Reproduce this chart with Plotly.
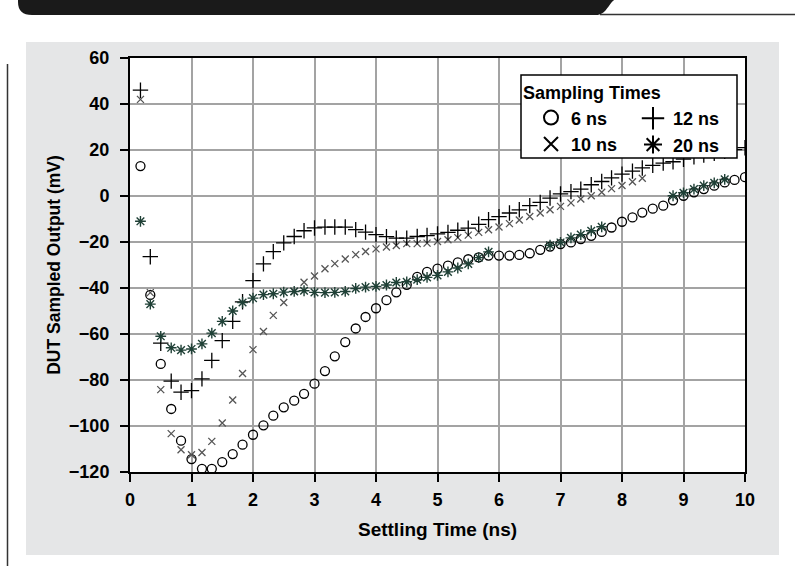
import plotly.graph_objects as go

# ---------------- data ----------------
settling_ns = [0.17, 0.33, 0.50, 0.67, 0.83, 1.00, 1.17, 1.33, 1.50, 1.67,
               1.83, 2.00, 2.17, 2.33, 2.50, 2.67, 2.83, 3.00, 3.17, 3.33,
               3.50, 3.67, 3.83, 4.00, 4.17, 4.33, 4.50, 4.67, 4.83, 5.00,
               5.17, 5.33, 5.50, 5.67, 5.83, 6.00, 6.17, 6.33, 6.50, 6.67,
               6.83, 7.00, 7.17, 7.33, 7.50, 7.67, 7.83, 8.00, 8.17, 8.33,
               8.50, 8.67, 8.83, 9.00, 9.17, 9.33, 9.50, 9.67, 9.83, 10.00]

out_6ns = [13, -43, -73, -92.6, -106.4, -114.4, -118.6, -118.6, -115.7, -112.2,
           -108.1, -103.8, -99.7, -95.5, -91.9, -89, -86, -81.6, -76.1, -69.7,
           -63.5, -57.6, -52.6, -48.8, -45.3, -41.9, -38.6, -35.2, -33, -31.6,
           -30.3, -28.9, -27.5, -26.7, -25.9, -25.9, -25.9, -25.6, -24.9, -23.4,
           -22, -20.9, -20.2, -18.7, -17.3, -15.6, -13.7, -11.2, -9.3, -7.2,
           -5.5, -4.2, -1.9, 0.1, 1.6, 3, 4.5, 5.9, 7, 8.2]

out_10ns = [42, -42, -84.2, -103.3, -110.3, -112.5, -111.5, -106.7, -98.7, -88.7,
            -77.2, -66.8, -58.9, -51.9, -46.3, -41.5, -37.5, -34.8, -31.6, -29.4,
            -27.4, -25.5, -24.1, -23, -22.2, -21.5, -20.7, -20.7, -20.5, -19.8,
            -19, -18.1, -17, -15.8, -14.7, -13.5, -12, -10.4, -8.9, -7.4,
            -6, -4.5, -3, -1.3, 0.1, 1.6, 3.2, 4.6, 6.2, 7.7,
            None, None, None, None, None, None, None, None, None, None]

out_12ns = [46, -26.4, -64, -80.5, -85.3, -84.6, -79.5, -71.5, -62.9, -54.5,
            -46, -36.8, -29.5, -24.2, -20.4, -17.6, -15.1, -13.9, -13.5, -13.5,
            -13.5, -14.6, -15.7, -16.8, -17.7, -18.3, -18.3, -17.6, -17.2, -16.5,
            -15.8, -14.9, -14, -12.3, -10.3, -9, -7.4, -6, -4.2, -2.8,
            -0.9, 0.9, 1.9, 3, 4.9, 6.3, 7.9, 9.5, 10.8, 12.2,
            13.3, 14.3, 14.9, 16, 17, 17.8, 18.6, 19.4, 20.2, 21]

out_20ns = [-11, -47, -61, -66, -67, -66.5, -64.3, -59.6, -54.5, -50,
            -46.3, -44.4, -42.9, -42.5, -41.8, -41.5, -41.2, -41.9, -42, -41.9,
            -41.5, -40.2, -39.6, -39.3, -38.7, -37.6, -37.3, -36.4, -35.4, -34.5,
            -33, -31.3, -29.5, -26.8, -24.3, None, None, None, None, None,
            -21.4, -20.2, -18.2, -16.8, -15.1, -13.4, None, None, None, None,
            None, None, 0.1, 1.4, 3, 4.5, 5.7, 7.2, None, None]

x_ticks = [0, 1, 2, 3, 4, 5, 6, 7, 8, 9, 10]
y_ticks = [-120, -100, -80, -60, -40, -20, 0, 20, 40, 60]

# ---------------- layout geometry ----------------
FIG_W, FIG_H = 795, 575
ML, MR, MT, MB = 130, 50, 58, 103
PW, PH = FIG_W - ML - MR, FIG_H - MT - MB


def px_x(x):
    return (x - ML) / PW


def px_y(y):
    return (FIG_H - MB - y) / PH


FONT = "Liberation Sans, Arial, Helvetica, sans-serif"

fig = go.Figure()

fig.add_trace(go.Scatter(x=settling_ns, y=out_6ns, mode="markers", name="6 ns",
                         showlegend=False,
                         marker=dict(symbol="circle-open", size=9, color="black",
                                     line=dict(width=1.3, color="black"))))
fig.add_trace(go.Scatter(x=settling_ns, y=out_10ns, mode="markers", name="10 ns",
                         showlegend=False,
                         marker=dict(symbol="x-thin-open", size=7, color="#555555",
                                     line=dict(width=1.3, color="#555555"))))
fig.add_trace(go.Scatter(x=settling_ns, y=out_12ns, mode="markers", name="12 ns",
                         showlegend=False,
                         marker=dict(symbol="cross-thin-open", size=11, color="black",
                                     line=dict(width=1.3, color="black"))))
fig.add_trace(go.Scatter(x=settling_ns, y=out_20ns, mode="markers", name="20 ns",
                         showlegend=False,
                         marker=dict(symbol="asterisk-open", size=9, color="#1f4036",
                                     line=dict(width=1.4, color="#1f4036"))))

# legend-only entries (no data)
leg_font = dict(family=FONT, size=18, color="black", weight="bold")
fig.add_trace(go.Scatter(x=[None], y=[None], mode="markers", name="6 ns",
                         legend="legend",
                         marker=dict(symbol="circle-open", size=14, color="black",
                                     line=dict(width=2, color="black"))))
fig.add_trace(go.Scatter(x=[None], y=[None], mode="markers", name="10 ns",
                         legend="legend",
                         marker=dict(symbol="x-thin-open", size=14, color="black",
                                     line=dict(width=2, color="black"))))
fig.add_trace(go.Scatter(x=[None], y=[None], mode="markers", name="12 ns",
                         legend="legend2",
                         marker=dict(symbol="cross-thin-open", size=16, color="black",
                                     line=dict(width=2, color="black"))))
fig.add_trace(go.Scatter(x=[None], y=[None], mode="markers", name="20 ns",
                         legend="legend2",
                         marker=dict(symbol="asterisk-open", size=15, color="black",
                                     line=dict(width=2, color="black"))))

shapes = [
    # grey panel
    dict(type="rect", xref="paper", yref="paper", layer="below",
         x0=px_x(26), x1=px_x(779), y0=px_y(555), y1=px_y(42),
         fillcolor="#e5e6e7", line=dict(width=0)),
    # white plot area
    dict(type="rect", xref="paper", yref="paper", layer="below",
         x0=0, x1=1, y0=0, y1=1, fillcolor="white", line=dict(width=0)),
    # left vertical rule
    dict(type="line", xref="paper", yref="paper", layer="below",
         x0=px_x(7.5), x1=px_x(7.5), y0=px_y(566), y1=px_y(64),
         line=dict(color="#333333", width=1.5)),
    # thin top rule
    dict(type="line", xref="paper", yref="paper", layer="below",
         x0=px_x(600), x1=px_x(795), y0=px_y(14.5), y1=px_y(14.5),
         line=dict(color="#333333", width=1.5)),
    # black header tab
    dict(type="path", xref="paper", yref="paper", layer="below",
         path=(f"M {px_x(18)},{px_y(-2)} L {px_x(618)},{px_y(-2)} "
               f"C {px_x(608)},{px_y(1)} {px_x(608)},{px_y(15)} {px_x(596)},{px_y(15)} "
               f"L {px_x(32)},{px_y(15)} Q {px_x(18)},{px_y(15)} {px_x(18)},{px_y(2)} Z"),
         fillcolor="#1a1a1a", line=dict(width=0)),
    # legend box
    dict(type="rect", xref="paper", yref="paper", layer="above",
         x0=px_x(521), x1=px_x(737), y0=px_y(158), y1=px_y(75),
         fillcolor="white", line=dict(color="black", width=1.5)),
]

axis_common = dict(
    showgrid=True, gridcolor="#a3a3a3", gridwidth=1.5,
    showline=True, linecolor="black", linewidth=2, mirror=True,
    ticks="outside", ticklen=8, tickwidth=1.5, tickcolor="black",
    zeroline=False,
    tickfont=dict(family=FONT, size=18, color="black", weight="bold"),
)

fig.update_layout(
    width=FIG_W, height=FIG_H,
    margin=dict(l=ML, r=MR, t=MT, b=MB, autoexpand=False),
    paper_bgcolor="white", plot_bgcolor="rgba(0,0,0,0)",
    font=dict(family=FONT, color="black"),
    shapes=shapes,
    xaxis=dict(range=[0, 10], tickvals=x_ticks, ticklabelstandoff=2,
               title=dict(text="Settling Time (ns)", standoff=14,
                          font=dict(family=FONT, size=19, color="black", weight="bold")),
               **axis_common),
    yaxis=dict(range=[-120, 60], tickvals=y_ticks, ticklabelstandoff=7,
               title=dict(text="DUT Sampled Output (mV)", standoff=4,
                          font=dict(family=FONT, size=17.5, color="black", weight="bold")),
               **axis_common),
    legend=dict(x=px_x(521), y=px_y(76), xanchor="left", yanchor="top",
                bgcolor="rgba(0,0,0,0)", borderwidth=0, itemwidth=30,
                indentation=10, tracegroupgap=0, font=leg_font,
                title=dict(text="Sampling Times", font=leg_font)),
    legend2=dict(x=px_x(633), y=px_y(100), xanchor="left", yanchor="top",
                 bgcolor="rgba(0,0,0,0)", borderwidth=0, itemwidth=30,
                 tracegroupgap=0, font=leg_font),
)

fig.write_html("out.html",
               config={"displayModeBar": False},
               post_script="document.body.style.margin='0';document.body.style.padding='0';")
